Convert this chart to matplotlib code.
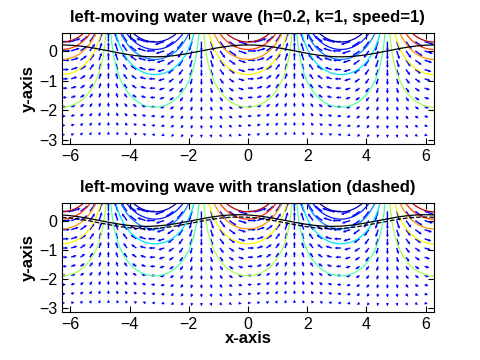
import numpy as np
import matplotlib
matplotlib.use('Agg')
import matplotlib.pyplot as plt

# wave parameters (from the title)
h = 0.2
k = 1
speed = 1
shift = 0.3        # translation shown in the lower panel
offset_dashed = -0.08

# contour levels of the stream function
levels = [-1.35, -1.05, -0.75, -0.45, -0.15, 0.15, 0.45, 0.75, 1.05, 1.35]
xticks = [-6, -4, -2, 0, 2, 4, 6]
yticks = [-3, -2, -1, 0]
titles = ['left-moving water wave (h=0.2, k=1, speed=1)',
          'left-moving wave with translation (dashed)']

plt.rcParams['font.family'] = ['Liberation Sans', 'DejaVu Sans']

# grids
x = np.linspace(-2 * np.pi, 2 * np.pi, 400)
y = np.linspace(-np.pi, 0.6, 200)
X, Y = np.meshgrid(x, y)
psi = np.exp(k * Y) * np.cos(k * X)

xq = np.arange(-2 * np.pi, 2 * np.pi + 1e-9, np.pi / 10)
yq = np.arange(-np.pi + np.pi / 10, 0.6, np.pi / 10)
XQ, YQ = np.meshgrid(xq, yq)
mag = np.exp(0.35 * k * YQ)
U = mag * np.cos(k * XQ)
V = mag * np.sin(k * XQ)

fig = plt.figure(figsize=(4.8, 3.6), dpi=100)
ax1 = fig.add_axes([0.129, 0.6, 0.775, 0.308])
ax2 = fig.add_axes([0.129, 0.133, 0.775, 0.303])

for i, ax in enumerate([ax1, ax2]):
    ax.contour(X, Y, psi, levels=levels, cmap='jet', vmin=-1.5, vmax=1.5, linewidths=0.9)
    ax.quiver(XQ, YQ, U, V, color='b', scale=42, width=0.0038,
              headwidth=2.2, headlength=2.2, headaxislength=2.0, pivot='tail')
    if i == 0:
        ax.plot(x, h * np.cos(k * x), color='k', lw=0.9)
    else:
        ax.plot(x, h * np.cos(k * (x + shift)), color='k', lw=0.9)
        ax.plot(x, h * np.cos(k * (x + shift)) + offset_dashed, color='k', lw=0.9, ls='--')
    ax.set_xlim(-2 * np.pi, 2 * np.pi)
    ax.set_ylim(-np.pi, 0.6)
    ax.set_xticks(xticks)
    ax.set_yticks(yticks)
    ax.tick_params(direction='in', top=True, right=True, labelsize=11.5, length=4)
    ax.set_title(titles[i], fontsize=12, fontweight='bold', pad=8)
    ax.set_ylabel('y-axis', fontsize=12, fontweight='bold', labelpad=2)

ax2.set_xlabel('x-axis', fontsize=12, fontweight='bold', labelpad=-1)

fig.savefig('out.png', dpi=100)
